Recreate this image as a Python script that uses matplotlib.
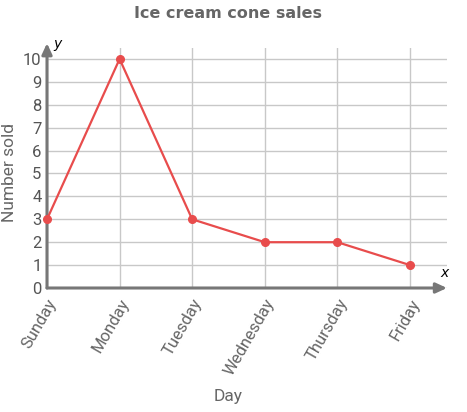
import numpy as np
import matplotlib.pyplot as plt

days = ['Sunday', 'Monday', 'Tuesday', 'Wednesday', 'Thursday', 'Friday']
sold = [3, 10, 3, 2, 2, 1]
yticks = [0, 1, 2, 3, 4, 5, 6, 7, 8, 9, 10]

fig = plt.figure(figsize=(4.67, 4.12), dpi=100)
ax = fig.add_axes([47/467, 1 - 288/412, 400/467, 240/412])

x = np.arange(len(days))
ax.plot(x, sold, color='#e84c4c', lw=1.6, marker='o', ms=5.5, zorder=5, clip_on=False)

ax.set_xlim(0, 5.51)
ax.set_ylim(0, 10.48)
ax.set_xticks(x)
ax.set_xticklabels(days, rotation=60, ha='right', rotation_mode='anchor',
                   color='#666666', fontsize=12, family='Roboto')
ax.set_yticks(yticks)
ax.set_yticklabels([str(v) for v in yticks], color='#555555', fontsize=12, family='Roboto')
ax.tick_params(length=0, pad=4)
ax.tick_params(axis='x', pad=6)
ax.grid(True, color='#c8c8c8', lw=1)
ax.set_axisbelow(True)
for s in ax.spines.values():
    s.set_visible(False)

# axis arrows
ax.annotate('', xy=(1.0, 0), xytext=(0, 0), xycoords='axes fraction',
            arrowprops=dict(arrowstyle='-|>,head_length=0.65,head_width=0.3', color='#777777', lw=2.2, shrinkA=0, shrinkB=0))
ax.annotate('', xy=(0, 1.02), xytext=(0, 0), xycoords='axes fraction',
            arrowprops=dict(arrowstyle='-|>,head_length=0.65,head_width=0.3', color='#777777', lw=2.2, shrinkA=0, shrinkB=0))
ax.text(1.005, 0.045, 'x', transform=ax.transAxes, fontsize=10, style='italic', ha='right')
ax.text(0.017, 1.0, 'y', transform=ax.transAxes, fontsize=10, style='italic', ha='left')

fig.text(228/467, 1 - 396/412, 'Day', ha='center', va='center',
         color='#666666', fontsize=12.5, family='Roboto')
fig.text(10/467, 1 - 173/412, 'Number sold', ha='center', va='center', rotation=90,
         color='#666666', fontsize=12.5, family='Roboto')
fig.text(228/467, 1 - 14/412, 'Ice cream cone sales', ha='center', va='center',
         fontsize=11.5, fontweight='bold', color='#666666', family='DejaVu Sans')

fig.savefig('out.png', dpi=100)
